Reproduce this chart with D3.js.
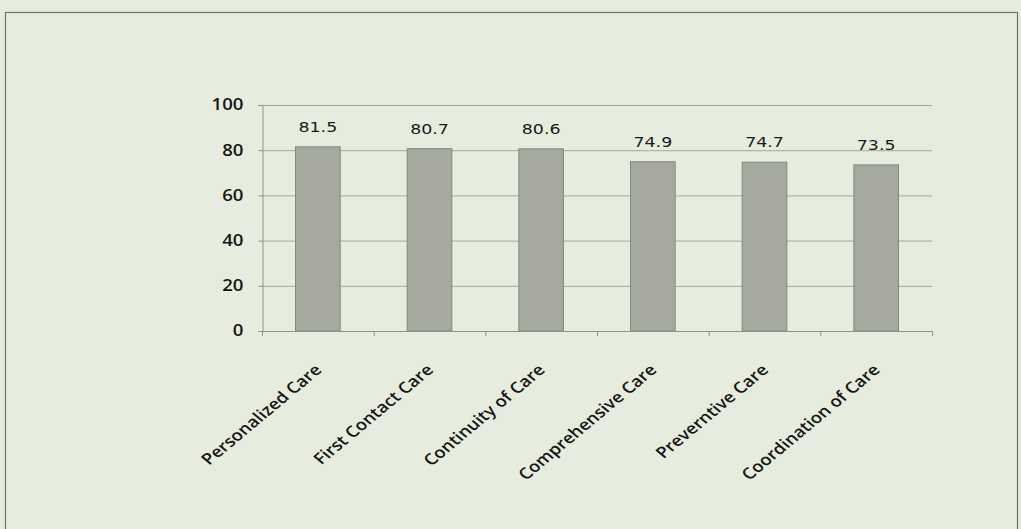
<!DOCTYPE html>
<html>
<head>
<meta charset="utf-8">
<script src="https://cdn.jsdelivr.net/npm/d3@7"></script>
<style>
  html, body { margin: 0; padding: 0; background: #e7edde; }
  svg { display: block; }
</style>
</head>
<body>
<svg id="chart" width="1021" height="529"></svg>
<script>
// Primary care attribute scores
const categories = ["Personalized Care", "First Contact Care", "Continuity of Care",
                    "Comprehensive Care", "Preverntive Care", "Coordination of Care"];
const scores = [81.5, 80.7, 80.6, 74.9, 74.7, 73.5];
const yTicks = [0, 20, 40, 60, 80, 100];

const svg = d3.select("#chart");
const W = 1021, H = 529;
const SX = 1.2; // horizontal widening applied to all text

// page background and chart frame
svg.append("rect").attr("width", W).attr("height", H).attr("fill", "#e7edde");
svg.append("rect")
  .attr("x", 5.5).attr("y", 12.5).attr("width", 1012).attr("height", 540)
  .attr("fill", "none").attr("stroke", "#6f716b").attr("stroke-width", 1.2);

const plot = { left: 262, right: 932, top: 105, bottom: 331 };

const x = d3.scaleBand().domain(categories)
  .range([plot.left, plot.right]).paddingInner(0.6).paddingOuter(0.3);
const xOuter = d3.scaleBand().domain(categories).range([plot.left, plot.right]);
const y = d3.scaleLinear().domain([0, 100]).range([plot.bottom, plot.top]);

// horizontal gridlines
svg.append("g").selectAll("line").data(yTicks.filter(d => d > 0)).join("line")
  .attr("x1", plot.left).attr("x2", plot.right)
  .attr("y1", d => y(d) + 0.5).attr("y2", d => y(d) + 0.5)
  .attr("stroke", "#a3a79d").attr("stroke-width", 1);

// y axis
const yAxis = svg.append("g").attr("transform", `translate(${plot.left + 0.5},0)`)
  .call(d3.axisLeft(y).tickValues(yTicks).tickSize(4));
yAxis.select(".domain").attr("stroke", "#8e9289");
yAxis.selectAll(".tick line").attr("stroke", "#8e9289");
yAxis.selectAll(".tick text")
  .attr("x", -19 / SX)
  .attr("transform", `scale(${SX},1)`)
  .attr("fill", "#151515")
  .style("font-family", "'Open Sans', sans-serif")
  .style("font-weight", "600")
  .style("font-size", "15.5px");

// bars
svg.append("g").selectAll("rect").data(categories).join("rect")
  .attr("x", (d) => x(d))
  .attr("width", x.bandwidth())
  .attr("y", (d, i) => y(scores[i]))
  .attr("height", (d, i) => y(0) - y(scores[i]))
  .attr("fill", "#a6a99e")
  .attr("stroke", "#85887f")
  .attr("stroke-width", 1);

// x axis line and ticks at category boundaries
const xAxisG = svg.append("g");
xAxisG.append("line")
  .attr("x1", plot.left).attr("x2", plot.right)
  .attr("y1", plot.bottom + 0.5).attr("y2", plot.bottom + 0.5)
  .attr("stroke", "#8e9289");
const boundaries = categories.map(c => xOuter(c)).concat([plot.right]);
xAxisG.selectAll("line.tk").data(boundaries).join("line").attr("class", "tk")
  .attr("x1", d => d + 0.5).attr("x2", d => d + 0.5)
  .attr("y1", plot.bottom).attr("y2", plot.bottom + 5)
  .attr("stroke", "#8e9289");

// value labels
svg.append("g").selectAll("text").data(categories).join("text")
  .attr("transform", (d, i) => `translate(${x(d) + x.bandwidth() / 2},${y(scores[i]) - 15}) scale(${SX},1)`)
  .attr("text-anchor", "middle")
  .attr("fill", "#1a1a1a")
  .style("font-family", "'DejaVu Sans', sans-serif")
  .style("font-size", "14.5px")
  .text((d, i) => scores[i].toFixed(1));

// rotated category labels
svg.append("g").selectAll("text").data(categories).join("text")
  .attr("transform", d => `translate(${x(d) + x.bandwidth() / 2 + 5},${plot.bottom + 40}) scale(${SX},1) rotate(-45)`)
  .attr("text-anchor", "end")
  .attr("fill", "#151515")
  .style("font-family", "'Open Sans', sans-serif")
  .style("font-weight", "600")
  .style("font-size", "15.5px")
  .text(d => d);
</script>
</body>
</html>
